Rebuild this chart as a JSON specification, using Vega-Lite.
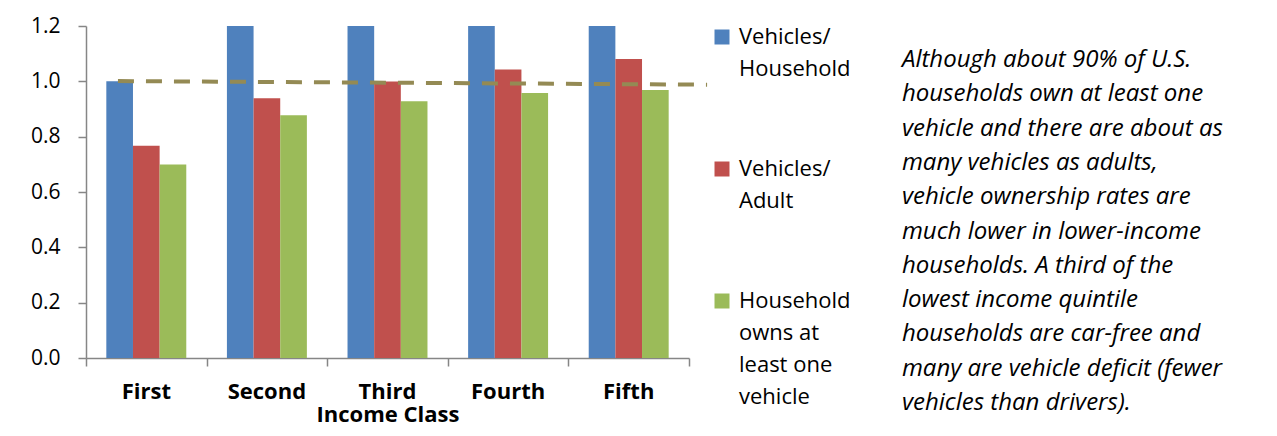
{
  "$schema": "https://vega.github.io/schema/vega-lite/v6.json",
  "width": 603,
  "height": 332,
  "autosize": {"type": "none"},
  "padding": {"left": 86, "top": 26, "right": 588, "bottom": 78},
  "background": "white",
  "config": {
    "font": "Open Sans",
    "view": {"stroke": null},
    "style": {"guide-label": {"lineHeight": 32}}
  },
  "title": {
    "text": [
      "Although about 90% of U.S.",
      "households own at least one",
      "vehicle and there are about as",
      "many vehicles as adults,",
      "vehicle ownership rates are",
      "much lower in lower-income",
      "households. A third of the",
      "lowest income quintile",
      "households are car-free and",
      "many are vehicle deficit (fewer",
      "vehicles than drivers)."
    ],
    "orient": "right",
    "angle": 0,
    "align": "left",
    "anchor": "start",
    "baseline": "top",
    "fontSize": 24,
    "fontStyle": "italic",
    "fontWeight": "normal",
    "lineHeight": 34.3,
    "offset": -270,
    "dy": 33,
    "color": "black"
  },
  "datasets": {
    "bars": [
      {"income": "First", "series": "Vehicles/Household", "value": 1.0},
      {"income": "First", "series": "Vehicles/Adult", "value": 0.767},
      {"income": "First", "series": "Household owns at least one vehicle", "value": 0.699},
      {"income": "Second", "series": "Vehicles/Household", "value": 1.2},
      {"income": "Second", "series": "Vehicles/Adult", "value": 0.939},
      {"income": "Second", "series": "Household owns at least one vehicle", "value": 0.877},
      {"income": "Third", "series": "Vehicles/Household", "value": 1.2},
      {"income": "Third", "series": "Vehicles/Adult", "value": 0.999},
      {"income": "Third", "series": "Household owns at least one vehicle", "value": 0.928},
      {"income": "Fourth", "series": "Vehicles/Household", "value": 1.2},
      {"income": "Fourth", "series": "Vehicles/Adult", "value": 1.043},
      {"income": "Fourth", "series": "Household owns at least one vehicle", "value": 0.958},
      {"income": "Fifth", "series": "Vehicles/Household", "value": 1.2},
      {"income": "Fifth", "series": "Vehicles/Adult", "value": 1.081},
      {"income": "Fifth", "series": "Household owns at least one vehicle", "value": 0.969}
    ],
    "trend": [
      {"pos": 0.265, "v": 1.001},
      {"pos": 5.15, "v": 0.988}
    ]
  },
  "layer": [
    {
      "data": {"name": "bars"},
      "mark": {"type": "bar"},
      "encoding": {
        "x": {
          "field": "income",
          "type": "nominal",
          "sort": ["First", "Second", "Third", "Fourth", "Fifth"],
          "scale": {"paddingInner": 0.337, "paddingOuter": 0.1685},
          "title": "Income Class",
          "axis": {
            "orient": "bottom",
            "labelAngle": 0,
            "labelFontSize": 22,
            "labelFontWeight": "bold",
            "labelColor": "black",
            "labelBaseline": "top",
            "ticks": false,
            "tickSize": 0,
            "labelPadding": 23,
            "domainColor": "#868686",
            "domainWidth": 1.5,
            "titleFontSize": 22,
            "titleFontWeight": "bold",
            "titleColor": "black",
            "titlePadding": 2
          }
        },
        "xOffset": {
          "field": "series",
          "type": "nominal",
          "sort": ["Vehicles/Household", "Vehicles/Adult", "Household owns at least one vehicle"],
          "scale": {"paddingInner": 0, "paddingOuter": 0}
        },
        "y": {
          "field": "value",
          "type": "quantitative",
          "title": null,
          "scale": {"domain": [0, 1.2], "nice": false},
          "axis": {
            "values": [0, 0.2, 0.4, 0.6, 0.8, 1.0, 1.2],
            "format": ".1f",
            "labelFontSize": 21,
            "labelColor": "black",
            "tickSize": 8,
            "tickColor": "#868686",
            "tickWidth": 1.5,
            "domainColor": "#868686",
            "domainWidth": 1.5,
            "labelPadding": 18,
            "grid": false
          }
        },
        "color": {
          "field": "series",
          "type": "nominal",
          "scale": {
            "domain": ["Vehicles/Household", "Vehicles/Adult", "Household owns at least one vehicle"],
            "range": ["#4F81BD", "#C0504D", "#9BBB59"]
          },
          "legend": {
            "orient": "right",
            "offset": 22,
            "title": null,
            "symbolType": "square",
            "symbolSize": 225,
            "symbolStrokeWidth": 0,
            "symbolOpacity": 1,
            "labelFontSize": 22,
            "labelColor": "black",
            "labelOffset": 6,
            "rowPadding": 78,
            "padding": 0,
            "labelExpr": "datum.label == 'Vehicles/Household' ? ['Vehicles/', 'Household'] : datum.label == 'Vehicles/Adult' ? ['Vehicles/', 'Adult'] : ['Household', 'owns at', 'least one', 'vehicle']"
          }
        }
      }
    },
    {
      "data": {"name": "trend"},
      "mark": {"type": "line", "clip": false, "color": "#948A54", "strokeWidth": 4, "strokeDash": [16, 12]},
      "encoding": {
        "x": {
          "field": "pos",
          "type": "quantitative",
          "title": null,
          "scale": {"domain": [0, 5], "nice": false, "zero": false},
          "axis": {
            "orient": "bottom",
            "values": [0, 1, 2, 3, 4, 5],
            "labels": false,
            "domain": false,
            "ticks": true,
            "tickSize": 8,
            "tickColor": "#868686",
            "tickWidth": 1.5,
            "grid": false
          }
        },
        "y": {"field": "v", "type": "quantitative"}
      }
    }
  ],
  "resolve": {"scale": {"x": "independent"}, "axis": {"x": "independent"}}
}
